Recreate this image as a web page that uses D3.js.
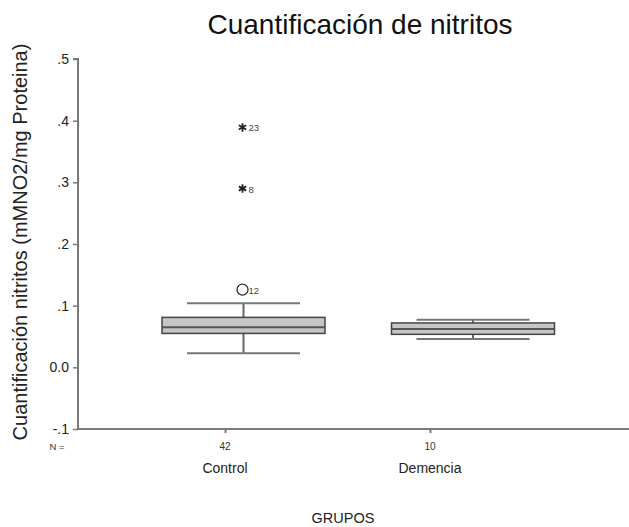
<!DOCTYPE html>
<html>
<head>
<meta charset="utf-8">
<script src="https://cdn.jsdelivr.net/npm/d3@7"></script>
<style>
  body { margin: 0; background: #fff; }
  svg { font-family: "Liberation Sans", Arial, sans-serif; }
</style>
</head>
<body>
<svg id="chart" width="629" height="527"></svg>
<script>
// Groups and their case counts
const groups = ["Control", "Demencia"];
const counts = [42, 10];

// Five-number summaries per group (mMNO2/mg Proteina)
const whiskerLow  = [0.023, 0.046];
const q1          = [0.055, 0.0535];
const median      = [0.065, 0.062];
const q3          = [0.081, 0.072];
const whiskerHigh = [0.104, 0.077];

// Outlying cases: group, value, case id, kind (circle = outlier, star = extreme)
const outGroup = ["Control", "Control", "Control"];
const outValue = [0.126, 0.290, 0.389];
const outCase  = ["12", "8", "23"];
const outKind  = ["circle", "star", "star"];

// Y axis ticks
const yTicks = [-0.1, 0, 0.1, 0.2, 0.3, 0.4, 0.5];
const yTickLabels = ["-.1", "0.0", ".1", ".2", ".3", ".4", ".5"];

const svg = d3.select("#chart");
const axisColor = "#7a7a7a";

const y = d3.scaleLinear().domain([-0.1, 0.5]).range([429, 59]);
// category tick positions along the baseline
const xTick = d3.scalePoint().domain(groups).range([225, 430]);
// box centres
const xBox = d3.scalePoint().domain(groups).range([243.5, 473]);
const boxW = 163, capW = 113;

// Title
svg.append("text").attr("x", 360).attr("y", 34).attr("text-anchor", "middle")
  .attr("font-size", 28).attr("fill", "#111").text("Cuantificación de nitritos");

// Y axis
const yAxis = d3.axisLeft(y).tickValues(yTicks)
  .tickFormat((d, i) => yTickLabels[i]).tickSize(5).tickPadding(4);
const gy = svg.append("g").attr("transform", "translate(78,0)").call(yAxis);
gy.select(".domain").attr("stroke", axisColor).attr("stroke-width", 2)
  .attr("d", "M-5," + y(0.5) + "H0V" + y(-0.1));
gy.selectAll(".tick line").attr("stroke", axisColor).attr("stroke-width", 1.5);
gy.selectAll(".tick text").attr("font-size", 14).attr("fill", "#222")
  .attr("font-family", "Liberation Sans, Arial, sans-serif");

// X baseline with category ticks
svg.append("line").attr("x1", 77).attr("x2", 629).attr("y1", 429).attr("y2", 429)
  .attr("stroke", axisColor).attr("stroke-width", 2);
const xAxis = d3.axisBottom(xTick).tickSize(4).tickFormat("");
const gx = svg.append("g").attr("transform", "translate(0,429)").call(xAxis);
gx.select(".domain").remove();
gx.selectAll(".tick line").attr("stroke", axisColor).attr("stroke-width", 2);

// N row
svg.append("text").attr("x", 57).attr("y", 450).attr("font-size", 9.5)
  .attr("text-anchor", "middle").attr("fill", "#333").text("N =");
svg.selectAll(".ncount").data(groups).enter().append("text")
  .attr("x", d => xTick(d)).attr("y", 450).attr("font-size", 10)
  .attr("text-anchor", "middle").attr("fill", "#333")
  .text((d, i) => counts[i]);

// Group names
svg.selectAll(".gname").data(groups).enter().append("text")
  .attr("x", d => xTick(d)).attr("y", 473).attr("font-size", 14)
  .attr("text-anchor", "middle").attr("fill", "#222").text(d => d);

// Axis titles
svg.append("text").attr("x", 343).attr("y", 523).attr("font-size", 14.5)
  .attr("text-anchor", "middle").attr("fill", "#222").text("GRUPOS");
svg.append("text").attr("transform", "translate(27,242) rotate(-90)")
  .attr("font-size", 20).attr("text-anchor", "middle").attr("fill", "#222")
  .text("Cuantificación nitritos (mMNO2/mg Proteina)");

// Box plots
const boxes = svg.selectAll(".box").data(groups).enter().append("g");
// whisker stems
boxes.append("line")
  .attr("x1", d => xBox(d)).attr("x2", d => xBox(d))
  .attr("y1", (d, i) => y(whiskerHigh[i])).attr("y2", (d, i) => y(whiskerLow[i]))
  .attr("stroke", "#666").attr("stroke-width", 2);
// whisker caps
[whiskerHigh, whiskerLow].forEach(arr => {
  boxes.append("line")
    .attr("x1", d => xBox(d) - capW / 2).attr("x2", d => xBox(d) + capW / 2)
    .attr("y1", (d, i) => y(arr[i])).attr("y2", (d, i) => y(arr[i]))
    .attr("stroke", "#777").attr("stroke-width", 2);
});
// box body
boxes.append("rect")
  .attr("x", d => xBox(d) - boxW / 2).attr("width", boxW)
  .attr("y", (d, i) => y(q3[i])).attr("height", (d, i) => y(q1[i]) - y(q3[i]))
  .attr("fill", "#c6c6c6").attr("stroke", "#444").attr("stroke-width", 1.5);
// median
boxes.append("line")
  .attr("x1", d => xBox(d) - boxW / 2).attr("x2", d => xBox(d) + boxW / 2)
  .attr("y1", (d, i) => y(median[i])).attr("y2", (d, i) => y(median[i]))
  .attr("stroke", "#555").attr("stroke-width", 2);

// Outliers
outValue.forEach((v, i) => {
  const cx = xBox(outGroup[i]) - 1, cy = y(v);
  if (outKind[i] === "circle") {
    svg.append("circle").attr("cx", cx).attr("cy", cy).attr("r", 5.5)
      .attr("fill", "none").attr("stroke", "#333").attr("stroke-width", 1.3);
  } else {
    svg.append("path").attr("transform", `translate(${cx},${cy})`)
      .attr("d", d3.symbol(d3.symbolAsterisk, 50)())
      .attr("stroke", "#222").attr("stroke-width", 1.8).attr("fill", "none");
  }
  svg.append("text").attr("x", cx + 6).attr("y", cy + 4)
    .attr("font-size", 9.5).attr("fill", "#444").text(outCase[i]);
});
</script>
</body>
</html>
